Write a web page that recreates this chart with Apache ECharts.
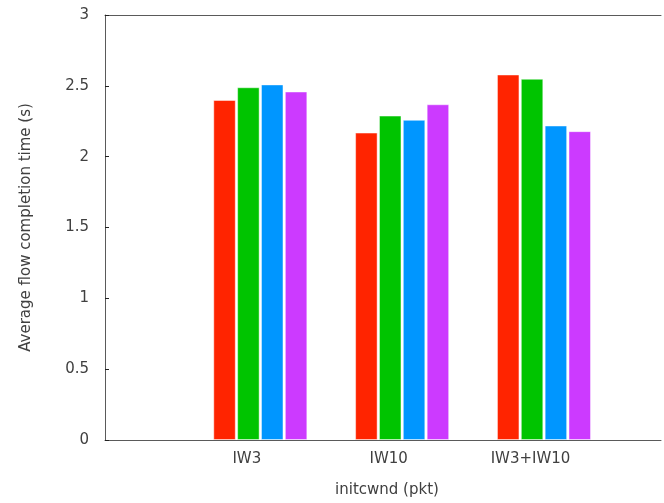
<!DOCTYPE html>
<html>
<head>
<meta charset="utf-8">
<script src="https://cdn.jsdelivr.net/npm/echarts@6/dist/echarts.min.js"></script>
<style>
  html, body { margin: 0; padding: 0; background: #fff; }
  #chart { width: 664px; height: 503px; }
</style>
</head>
<body>
<div id="chart"></div>
<script>
// ---- data ----
var categories = ["IW3", "IW10", "IW3+IW10"];
var seriesRed    = [2.40, 2.17, 2.58];
var seriesGreen  = [2.49, 2.29, 2.55];
var seriesBlue   = [2.51, 2.26, 2.22];
var seriesPurple = [2.46, 2.37, 2.18];
var yTicks = [0, 0.5, 1, 1.5, 2, 2.5, 3];

var colors = ["#ff2400", "#00c400", "#0096ff", "#cc3aff"];
var allSeries = [seriesRed, seriesGreen, seriesBlue, seriesPurple];

var FONT = "DejaVu Sans";
var TXT = "#404040";
var AX = "#5a5a5a";

function toPoints(vals) {
  return categories.map(function (c, i) { return [i, vals[i]]; });
}

var chart = echarts.init(document.getElementById("chart"), null, { renderer: "canvas" });

chart.setOption({
  animation: false,
  backgroundColor: "#ffffff",
  grid: { left: 105, right: 0, top: 15, bottom: 59, containLabel: false },
  xAxis: [
    {
      type: "value",
      position: "bottom",
      min: -1,
      max: 2.92,
      interval: 1,
      splitLine: { show: false },
      axisTick: { show: false },
      axisLine: { show: true, onZero: false, lineStyle: { color: AX, width: 1 } },
      axisLabel: {
        margin: 12,
        fontFamily: FONT,
        fontSize: 15,
        color: TXT,
        formatter: function (v) {
          var i = Math.round(v);
          if (Math.abs(v - i) < 1e-6 && i >= 0 && i < categories.length) return categories[i];
          return "";
        }
      },
      name: "initcwnd (pkt)",
      nameLocation: "middle",
      nameGap: 43,
      nameTextStyle: { fontFamily: FONT, fontSize: 15, color: TXT, padding: [0, 0, 0, 8] }
    },
    {
      type: "value",
      position: "top",
      min: -1.095,
      max: 2.825,
      splitLine: { show: false },
      axisTick: { show: false },
      axisLabel: { show: false },
      axisLine: { show: true, onZero: false, lineStyle: { color: AX, width: 1 } }
    }
  ],
  yAxis: {
    type: "value",
    min: yTicks[0],
    max: yTicks[yTicks.length - 1],
    interval: 0.5,
    splitLine: { show: false },
    axisLine: { show: true, onZero: false, lineStyle: { color: AX, width: 1 } },
    axisTick: { show: true, inside: true, length: 4, lineStyle: { color: "#222" } },
    axisLabel: {
      margin: 16,
      fontFamily: FONT,
      fontSize: 15,
      color: TXT,
      formatter: function (v) { return String(v); }
    },
    name: "Average flow completion time (s)",
    nameLocation: "middle",
    nameGap: 71,
    nameTextStyle: { fontFamily: FONT, fontSize: 15, color: TXT }
  },
  series: allSeries.map(function (vals, k) {
    return {
      type: "bar",
      xAxisIndex: 1,
      yAxisIndex: 0,
      data: toPoints(vals),
      barWidth: 22.5,
      barGap: "6%",
      itemStyle: {
        color: colors[k],
        borderColor: "rgba(255,255,255,0.45)",
        borderWidth: 1
      }
    };
  })
});
</script>
</body>
</html>
